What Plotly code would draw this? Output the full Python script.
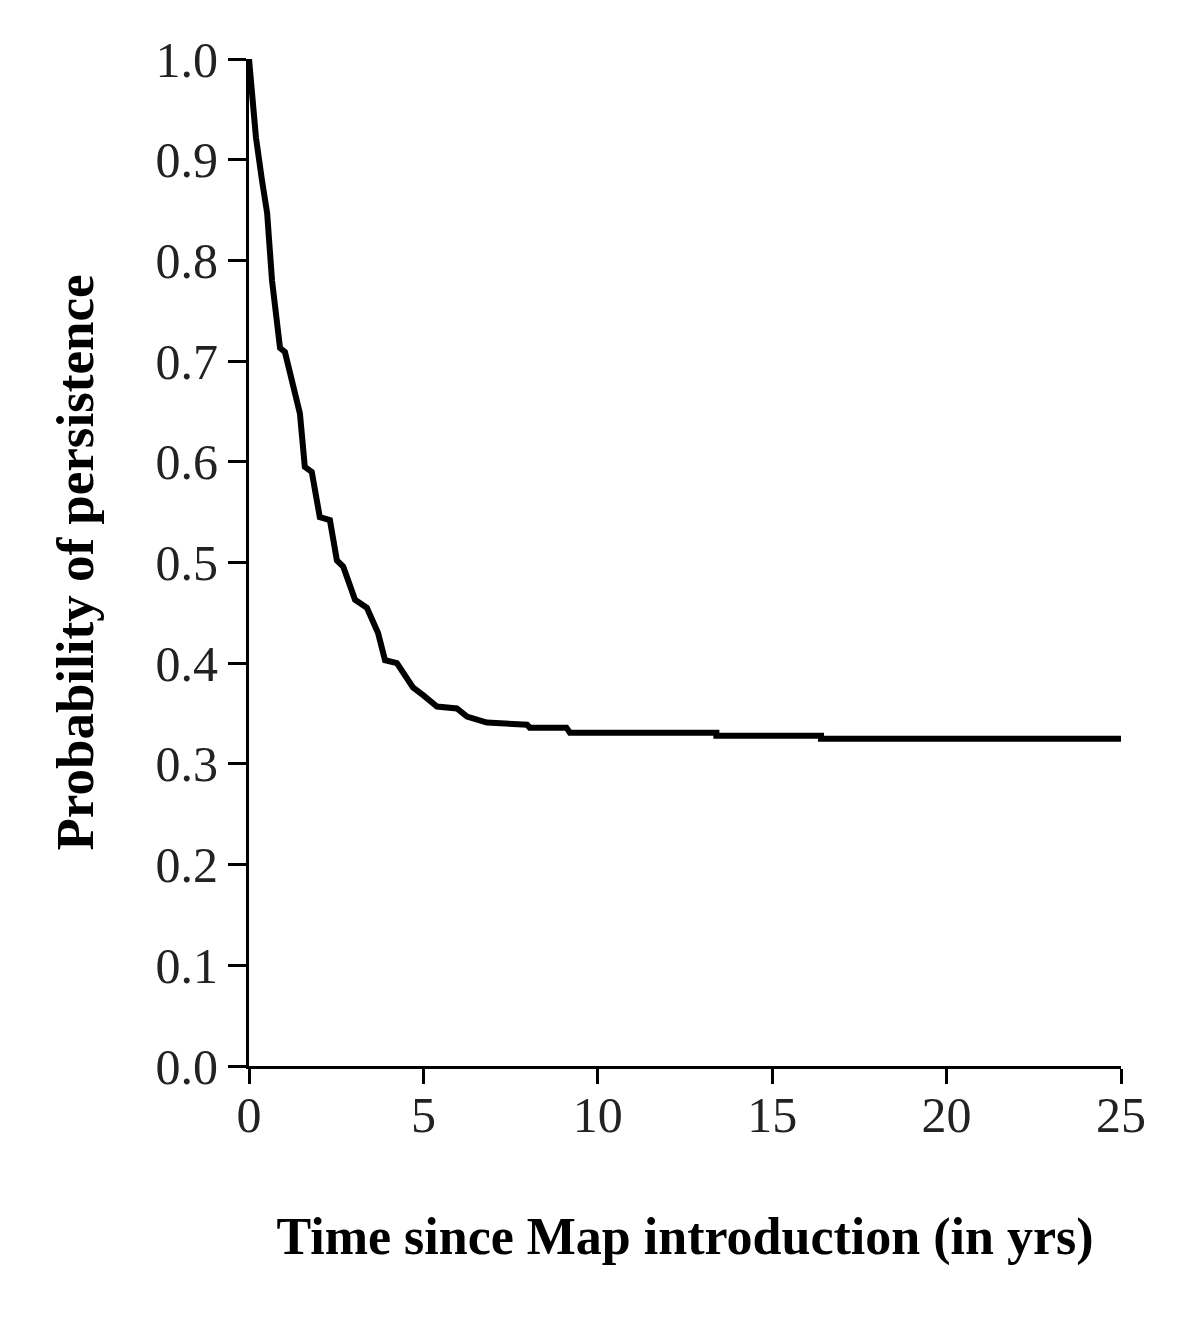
import plotly.graph_objects as go

# survival curve (years, probability)
years = [0.0, 0.0, 0.09, 0.2, 0.37, 0.52, 0.66, 0.89, 1.03, 1.4, 1.46, 1.6, 1.8, 2.03,
         2.32, 2.52, 2.7, 3.04, 3.38, 3.7, 3.9, 4.24, 4.7, 5.0, 5.39, 5.96, 6.25,
         6.82, 7.97, 8.05, 9.1, 9.2, 13.4, 13.4, 16.4, 16.4, 25.0]
persistence = [1.0, 1.0, 0.966, 0.922, 0.88, 0.847, 0.78, 0.713, 0.709, 0.661, 0.648,
               0.595, 0.59, 0.545, 0.542, 0.502, 0.496, 0.463, 0.455, 0.43, 0.403,
               0.40, 0.376, 0.368, 0.357, 0.355, 0.347, 0.341, 0.339, 0.336, 0.336,
               0.331, 0.331, 0.328, 0.328, 0.325, 0.325]

x_ticks = [0, 5, 10, 15, 20, 25]
y_ticks = [0.0, 0.1, 0.2, 0.3, 0.4, 0.5, 0.6, 0.7, 0.8, 0.9, 1.0]

serif = "Liberation Serif"

fig = go.Figure(go.Scatter(
    x=years, y=persistence, mode="lines",
    line=dict(color="black", width=6),
    cliponaxis=False, showlegend=False,
))

# page body has an 8px margin, so the margins are 8px smaller than the target
fig.update_layout(
    width=1200, height=1329,
    paper_bgcolor="white", plot_bgcolor="white",
    margin=dict(l=241, r=87, t=51, b=271),
    font=dict(family=serif, color="#222", size=50),
)
fig.update_xaxes(
    range=[0, 25], tickvals=x_ticks, ticktext=[str(v) for v in x_ticks],
    showgrid=False, zeroline=False,
    showline=True, linecolor="black", linewidth=3,
    ticks="outside", ticklen=15, tickwidth=3, tickcolor="black",
    ticklabelstandoff=-12,
    title=dict(text="<b>Time since Map introduction (in yrs)</b>",
               font=dict(family=serif, size=52, color="black"), standoff=76),
)
fig.update_yaxes(
    range=[0, 1], tickvals=y_ticks, ticktext=[f"{v:.1f}" for v in y_ticks],
    showgrid=False, zeroline=False,
    showline=True, linecolor="black", linewidth=3,
    ticks="outside", ticklen=18, tickwidth=3, tickcolor="black",
    ticklabelstandoff=0,
    title=dict(text="<b>Probability of persistence</b>",
               font=dict(family=serif, size=53, color="black"), standoff=45),
)

fig.write_html("out.html")
